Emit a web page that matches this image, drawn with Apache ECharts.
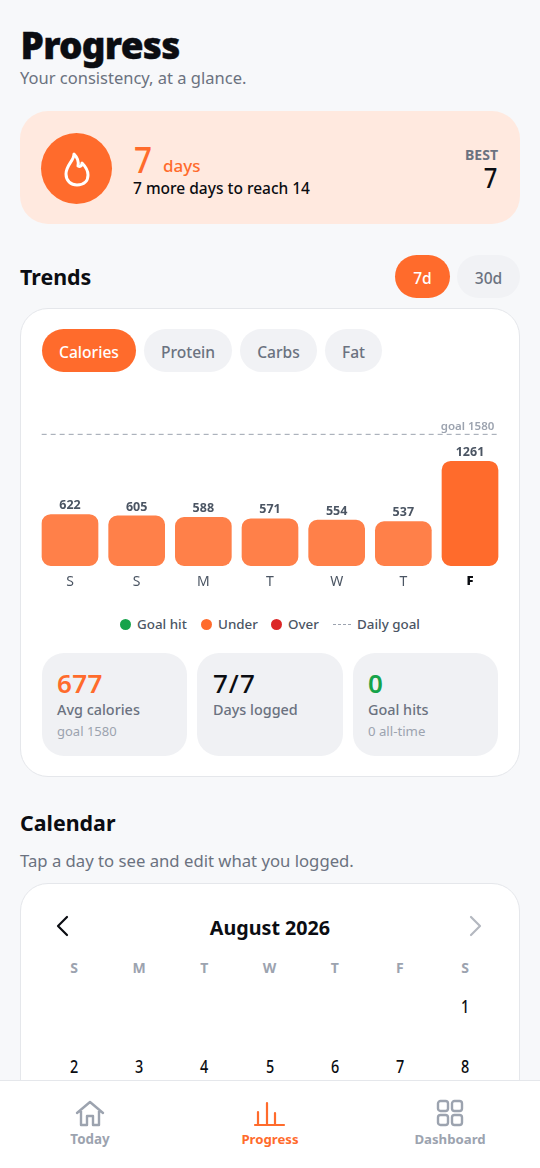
<!DOCTYPE html>
<html>
<head>
<meta charset="utf-8">
<title>Progress</title>
<script src="https://cdn.jsdelivr.net/npm/echarts@6/dist/echarts.min.js"></script>
<style>
html,body{margin:0;padding:0;width:540px;height:1168px;overflow:hidden;background:#F7F8FA;font-family:"Noto Sans",sans-serif;color:#0B0D12}
.a{position:absolute;white-space:nowrap;line-height:1}
.box{position:absolute;box-sizing:border-box}
.pill{position:absolute;height:43px;box-sizing:border-box;padding-top:2px;border-radius:22px;background:#F1F2F5;color:#6B7280;font-size:15.6px;font-weight:500;display:flex;align-items:center;justify-content:center}
.on{background:#FF6B2C;color:#fff}
.tile{position:absolute;top:653px;height:103px;border-radius:22px;background:#F0F1F4}
.grey{color:#6B7280}.light{color:#9CA3AF}.orange{color:#FF6B2C}
.lg{position:absolute;top:617px;font-size:13.4px;line-height:15px;color:#4B5563;font-weight:500}
.dot{position:absolute;top:619px;width:11px;height:11px;border-radius:50%}
.ctr{transform:translateX(-50%)}
.num{transform:translateX(-50%) scale(.9,1.08)}
</style>
</head>
<body>
<div class="a" style="left:20.5px;top:26px;font-size:37px;font-weight:900;letter-spacing:-.75px;-webkit-text-stroke:.4px #0B0D12">Progress</div>
<div class="a grey" style="left:20px;top:70px;font-size:16.5px">Your consistency, at a glance.</div>

<div class="box" style="left:20px;top:111px;width:500px;height:113px;border-radius:28px;background:#FFE9DF"></div>
<div class="box" style="left:41px;top:133px;width:71px;height:71px;border-radius:50%;background:#FF6B2C"></div>
<svg class="box" style="left:59px;top:150px" width="36" height="38" viewBox="0 0 36 38" fill="none" stroke="#fff" stroke-width="3" stroke-linejoin="round" stroke-linecap="round">
<path d="M15 4 C15 11 7 15 7 24 C7 31 12 35 18 35 C25 35 29 31 29 25 C29 20 26 16 23 13 C23 16 21 17 19 16 C20 11 18 7 15 4 Z"/></svg>
<div class="a orange" style="left:133.5px;top:140px;font-size:37px;font-weight:500;transform:scaleX(.85);transform-origin:left">7</div>
<div class="a orange" style="left:163px;top:157px;font-size:17px;font-weight:500">days</div>
<div class="a" style="left:133px;top:181px;font-size:15.5px;font-weight:500">7 more days to reach 14</div>
<div class="a grey" style="right:42px;top:148px;font-size:14px;font-weight:700">BEST</div>
<div class="a" style="right:43px;top:164px;font-size:27px;font-weight:500;transform:scaleX(.88);transform-origin:right">7</div>

<div class="a" style="left:20px;top:266px;font-size:21.4px;font-weight:700">Trends</div>
<div class="pill on" style="left:395px;top:255px;width:55px">7d</div>
<div class="pill" style="left:457px;top:255px;width:63px">30d</div>

<div class="box" style="left:20px;top:308px;width:500px;height:469px;border-radius:28px;background:#fff;border:1px solid #E5E7EB"></div>
<div class="pill on" style="left:42px;top:329px;width:94px">Calories</div>
<div class="pill" style="left:144px;top:329px;width:88px">Protein</div>
<div class="pill" style="left:240px;top:329px;width:77px">Carbs</div>
<div class="pill" style="left:325px;top:329px;width:57px">Fat</div>

<div id="chart" style="position:absolute;left:0;top:400px;width:540px;height:200px"></div>

<div class="dot" style="left:120px;background:#16A34A"></div><div class="lg" style="left:137px">Goal hit</div>
<div class="dot" style="left:201px;background:#FF6B2C"></div><div class="lg" style="left:218px">Under</div>
<div class="dot" style="left:271px;background:#DC2626"></div><div class="lg" style="left:288px">Over</div>
<div class="box" style="left:333px;top:624px;width:18px;border-top:1px dashed #9CA3AF"></div><div class="lg" style="left:357px">Daily goal</div>

<div class="tile" style="left:42px;width:145px"></div>
<div class="tile" style="left:197px;width:146px"></div>
<div class="tile" style="left:353px;width:145px"></div>
<div class="a orange" style="left:57px;top:670px;font-size:26px;font-weight:600;letter-spacing:.4px">677</div>
<div class="a" style="left:213px;top:670px;font-size:26px;font-weight:500;letter-spacing:1px">7/7</div>
<div class="a" style="left:368px;top:670px;font-size:26px;font-weight:600;color:#16A34A">0</div>
<div class="a grey" style="left:57px;top:703px;font-size:14.4px;font-weight:500">Avg calories</div>
<div class="a grey" style="left:213px;top:703px;font-size:14.4px;font-weight:500">Days logged</div>
<div class="a grey" style="left:368px;top:703px;font-size:14.4px;font-weight:500">Goal hits</div>
<div class="a light" style="left:57px;top:725px;font-size:13px">goal 1580</div>
<div class="a light" style="left:368px;top:725px;font-size:13.2px">0 all-time</div>

<div class="a" style="left:20px;top:812px;font-size:21.4px;font-weight:700">Calendar</div>
<div class="a grey" style="left:20px;top:853px;font-size:16.7px">Tap a day to see and edit what you logged.</div>

<div class="box" style="left:20px;top:883px;width:500px;height:300px;border-radius:28px;background:#fff;border:1px solid #E5E7EB"></div>
<svg class="box" style="left:52px;top:914px" width="20" height="24" fill="none" stroke="#0B0D12" stroke-width="2.2" stroke-linecap="round" stroke-linejoin="round"><path d="M15 3 L6 12 L15 21"/></svg>
<svg class="box" style="left:466px;top:914px" width="20" height="24" fill="none" stroke="#B4B8C0" stroke-width="2.2" stroke-linecap="round" stroke-linejoin="round"><path d="M5 3 L14 12 L5 21"/></svg>
<div class="a ctr" style="left:270px;top:918px;font-size:19.7px;font-weight:700">August 2026</div>
<div id="cal"></div>

<div class="box" style="left:0;top:1080px;width:540px;height:88px;background:#fff;border-top:1px solid #E5E7EB"></div>
<svg class="box" style="left:74px;top:1100px" width="32" height="28" viewBox="0 0 32 28" fill="none" stroke="#9CA3AF" stroke-width="2.4" stroke-linejoin="round" stroke-linecap="round">
<path d="M3 13 L16 2 L29 13 M7 11 V25 H13 V16 H19 V25 H25 V11"/></svg>
<svg class="box" style="left:246px;top:1100px" width="50" height="28" viewBox="0 0 50 28" fill="none" stroke="#FF6B2C" stroke-width="2.2" stroke-linecap="round">
<path d="M9 25 H38 M12 25 V12 M21 25 V3 M29 25 V13"/></svg>
<svg class="box" style="left:436px;top:1099px" width="28" height="28" viewBox="0 0 28 28" fill="none" stroke="#9CA3AF" stroke-width="2.4">
<rect x="2" y="2" width="10" height="10" rx="2.5"/><rect x="16" y="2" width="10" height="10" rx="2.5"/><rect x="2" y="16" width="10" height="10" rx="2.5"/><rect x="16" y="16" width="10" height="10" rx="2.5"/></svg>
<div class="a ctr light" style="left:90px;top:1133px;font-size:13.4px;font-weight:700">Today</div>
<div class="a ctr orange" style="left:270px;top:1133px;font-size:13.2px;font-weight:700">Progress</div>
<div class="a ctr light" style="left:450px;top:1133px;font-size:13.2px;font-weight:700">Dashboard</div>

<script>
var days = ['S', 'S', 'M', 'T', 'W', 'T', 'F'];
var calories = [622, 605, 588, 571, 554, 537, 1261];
var goal = 1580;
var todayIndex = 6;
var calHead = ['S', 'M', 'T', 'W', 'T', 'F', 'S'];
var calWeek1 = ['', '', '', '', '', '', '1'];
var calWeek2 = ['2', '3', '4', '5', '6', '7', '8'];

// calendar grid
var calHtml = '';
function calRow(list, top, cls, style) {
    for (var i = 0; i < list.length; i++) {
        calHtml += '<div class="a ' + cls + '" style="left:' + (74 + i * 65.17) + 'px;top:' + top + 'px;' + style + '">' + list[i] + '</div>';
    }
}
calRow(calHead, 961, 'ctr', 'font-size:14px;font-weight:700;color:#9CA3AF');
calRow(calWeek1, 999, 'num', 'font-size:16px;font-weight:500');
calRow(calWeek2, 1059, 'num', 'font-size:16px;font-weight:500');
document.getElementById('cal').innerHTML = calHtml;

var barW = 56.67;
var chart = echarts.init(document.getElementById('chart'));
chart.setOption({
    animation: false,
    textStyle: {fontFamily: '"Noto Sans", sans-serif'},
    grid: {left: 36.67, width: 466.67, top: 16, height: 150},
    xAxis: {
        type: 'category',
        data: days,
        axisLine: {show: false},
        axisTick: {show: false},
        axisLabel: {
            interval: 0,
            margin: 9,
            fontSize: 14,
            color: '#4B5563',
            formatter: function (v, i) {
                return i === todayIndex ? '{now|' + v + '}' : v;
            },
            rich: {now: {fontSize: 13, fontWeight: 900, color: '#0B0D12'}}
        }
    },
    yAxis: {type: 'value', min: 0, max: 1800, show: false},
    series: [{
        type: 'bar',
        barWidth: barW,
        data: calories.map(function (v, i) {
            return {value: v, itemStyle: {color: i === todayIndex ? '#FF6B2C' : '#FF8049'}};
        }),
        itemStyle: {borderRadius: 9},
        label: {show: true, position: 'top', distance: 2, fontSize: 12.5, fontWeight: 700, color: '#4B5563'}
    }, {
        // goal line runs from the outer edge of the first bar to the outer edge of the last
        type: 'custom',
        silent: true,
        clip: false,
        data: [[0, goal]],
        encode: {x: 0, y: 1},
        renderItem: function (params, api) {
            var left = api.coord([0, api.value(1)]);
            var right = api.coord([days.length - 1, api.value(1)]);
            return {
                type: 'group',
                children: [{
                    type: 'line',
                    shape: {x1: left[0] - barW / 2, y1: left[1], x2: right[0] + barW / 2, y2: right[1]},
                    style: {stroke: '#9CA3AF', lineWidth: 1, lineDash: [5, 4]}
                }, {
                    type: 'text',
                    style: {
                        x: right[0] + barW / 2 - 4, y: right[1] - 8,
                        text: 'goal ' + api.value(1),
                        align: 'right', verticalAlign: 'middle',
                        fontSize: 11.5, fontWeight: 600, fill: '#9CA3AF',
                        fontFamily: '"Noto Sans", sans-serif'
                    }
                }]
            };
        }
    }]
});
</script>
</body>
</html>
